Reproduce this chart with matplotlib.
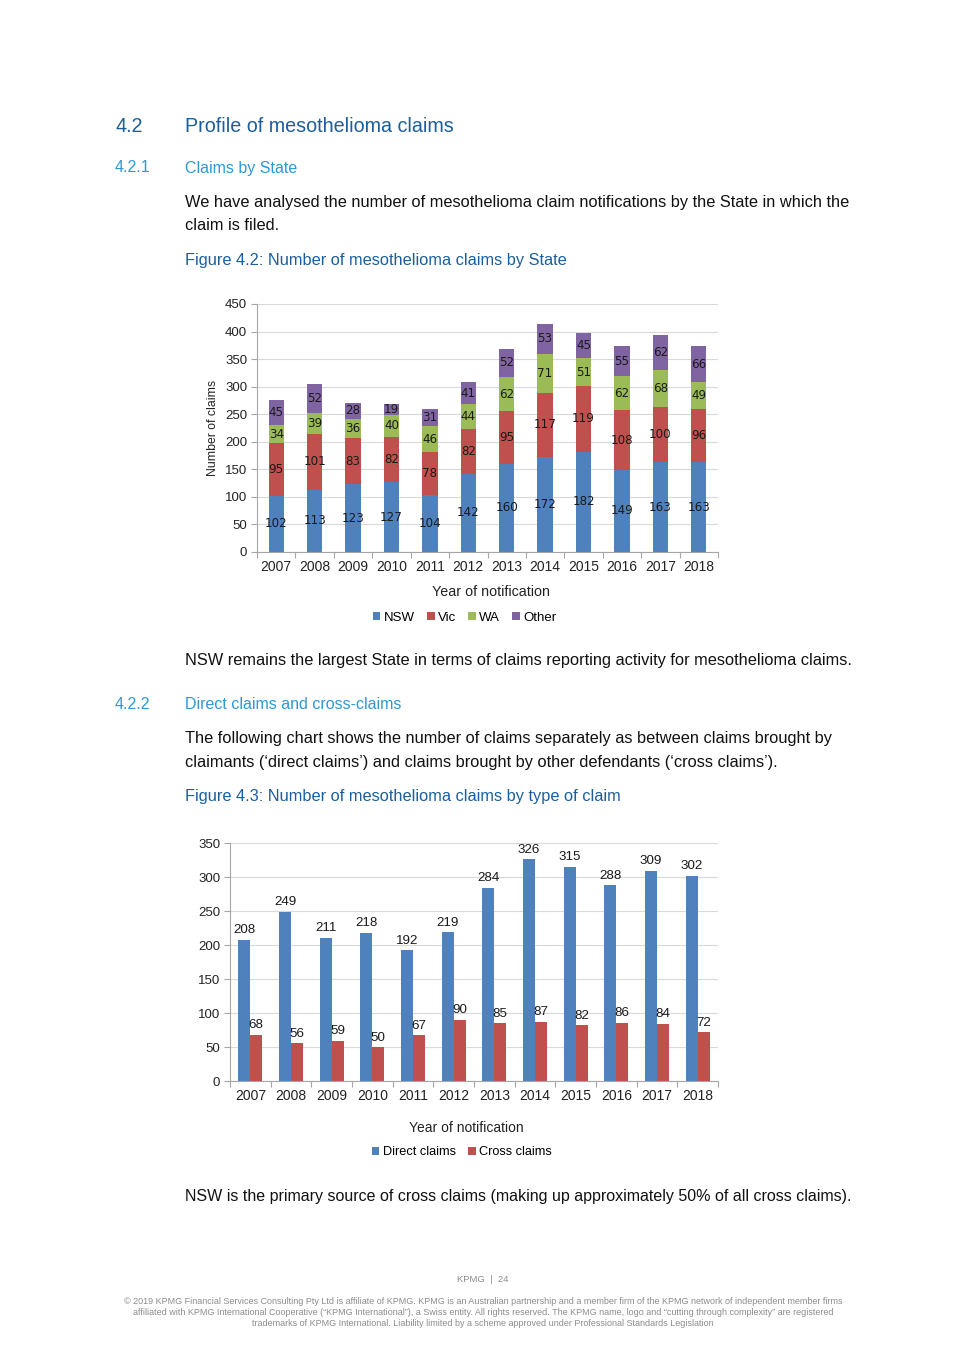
import numpy as np
import matplotlib
matplotlib.use("Agg")
import matplotlib.pyplot as plt

plt.rcParams["font.family"] = ["Liberation Sans", "DejaVu Sans"]

years = [str(y) for y in range(2007, 2019)]
nsw = [102, 113, 123, 127, 104, 142, 160, 172, 182, 149, 163, 163]
vic = [95, 101, 83, 82, 78, 82, 95, 117, 119, 108, 100, 96]
wa = [34, 39, 36, 40, 46, 44, 62, 71, 51, 62, 68, 49]
other = [45, 52, 28, 19, 31, 41, 52, 53, 45, 55, 62, 66]

direct = [208, 249, 211, 218, 192, 219, 284, 326, 315, 288, 309, 302]
cross = [68, 56, 59, 50, 67, 90, 85, 87, 82, 86, 84, 72]

BLUE = "#4F81BD"
RED = "#C0504D"
GREEN = "#9BBB59"
PURPLE = "#8064A2"
HEAD = "#1B5E9E"
SUB = "#2E98D4"
GRID = "#D9D9D9"
AXC = "#A6A6A6"
BODY = 11.8

W, H = 965, 1365
fig = plt.figure(figsize=(W / 100, H / 100), dpi=100)
fig.patch.set_facecolor("white")


def ftext(x, y, s, **kw):
    # place text using pixel coords from the top-left corner
    fig.text(x / W, 1 - y / H, s, va="center", **kw)


def style_axes(ax, ymax, step):
    ax.set_ylim(0, ymax)
    ax.set_yticks(np.arange(0, ymax + 1, step))
    ax.set_xlim(-0.5, len(years) - 0.5)
    ax.set_xticks(range(len(years)))
    ax.set_xticklabels(years)
    ax.set_xticks(np.arange(-0.5, len(years), 1), minor=True)
    ax.tick_params(axis="x", which="major", length=0, pad=6, labelsize=10, labelcolor="#222222")
    ax.tick_params(axis="x", which="minor", length=4, color=AXC, width=0.8)
    ax.tick_params(axis="y", length=4, color=AXC, width=0.8, labelsize=9.5, labelcolor="#222222", pad=3)
    ax.yaxis.grid(True, color=GRID, lw=0.8)
    ax.set_axisbelow(True)
    for side in ("top", "right"):
        ax.spines[side].set_visible(False)
    for side in ("left", "bottom"):
        ax.spines[side].set_color(AXC)
        ax.spines[side].set_linewidth(0.8)


# ---- page text ----
ftext(115, 127, "4.2", fontsize=14.2, color=HEAD)
ftext(185, 127, "Profile of mesothelioma claims", fontsize=14.2, color=HEAD)
ftext(115, 168, "4.2.1", fontsize=11.5, color=SUB)
ftext(185, 168, "Claims by State", fontsize=11.5, color=SUB)
ftext(185, 202, "We have analysed the number of mesothelioma claim notifications by the State in which the",
      fontsize=BODY, color="#111111")
ftext(185, 226, "claim is filed.", fontsize=BODY, color="#111111")
ftext(185, 261, "Figure 4.2: Number of mesothelioma claims by State", fontsize=BODY, color=HEAD)

ftext(185, 660, "NSW remains the largest State in terms of claims reporting activity for mesothelioma claims.",
      fontsize=BODY, color="#111111")
ftext(115, 704, "4.2.2", fontsize=11.5, color=SUB)
ftext(185, 704, "Direct claims and cross-claims", fontsize=11.5, color=SUB)
ftext(185, 738, "The following chart shows the number of claims separately as between claims brought by",
      fontsize=BODY, color="#111111")
ftext(185, 762, "claimants (\u2018direct claims\u2019) and claims brought by other defendants (\u2018cross claims\u2019).",
      fontsize=BODY, color="#111111")
ftext(185, 796, "Figure 4.3: Number of mesothelioma claims by type of claim", fontsize=BODY, color=HEAD)
ftext(185, 1196, "NSW is the primary source of cross claims (making up approximately 50% of all cross claims).",
      fontsize=11.5, color="#111111")

ftext(483, 1279, "KPMG  |  24", fontsize=6.8, color="#8C8C8C", ha="center")
footer = [
    "\u00a9 2019 KPMG Financial Services Consulting Pty Ltd is affiliate of KPMG. KPMG is an Australian partnership and a member firm of the KPMG network of independent member firms",
    "affiliated with KPMG International Cooperative (\u201cKPMG International\u201d), a Swiss entity. All rights reserved. The KPMG name, logo and \u201ccutting through complexity\u201d are registered",
    "trademarks of KPMG International. Liability limited by a scheme approved under Professional Standards Legislation",
]
for i, line in enumerate(footer):
    ftext(483, 1302 + i * 10.5, line, fontsize=6.45, color="#8C8C8C", ha="center")

# ---- Figure 4.2: stacked bars by State ----
ax1 = fig.add_axes([257 / W, 1 - 552 / H, (718 - 257) / W, (552 - 304) / H])
x = np.arange(len(years))
bw = 0.4
bottom = np.zeros(len(years))
for vals, col, name in [(nsw, BLUE, "NSW"), (vic, RED, "Vic"), (wa, GREEN, "WA"), (other, PURPLE, "Other")]:
    vals = np.array(vals)
    ax1.bar(x, vals, bw, bottom=bottom, color=col, label=name, zorder=2)
    for xi, b, v in zip(x, bottom, vals):
        ax1.text(xi, b + v / 2, str(v), ha="center", va="center", fontsize=8.6,
                 color="#1a1a1a", family="DejaVu Sans", zorder=3)
    bottom = bottom + vals
style_axes(ax1, 450, 50)
ax1.set_ylabel("Number of claims", fontsize=8.8, color="#222222", labelpad=4)
ax1.set_xlabel("Year of notification", fontsize=10.3, color="#222222")
ax1.xaxis.set_label_coords(0.508, -0.135)
ax1.legend(loc="center", bbox_to_anchor=(0.45, -0.265), ncol=4, frameon=False, fontsize=9.5,
           handlelength=0.6, handleheight=0.6, handletextpad=0.25, columnspacing=0.9, borderaxespad=0)

# ---- Figure 4.3: direct vs cross claims ----
ax2 = fig.add_axes([230 / W, 1 - 1081 / H, (718 - 230) / W, (1081 - 843) / H])
gw = 0.295
ax2.bar(x - gw / 2, direct, gw, color=BLUE, label="Direct claims", zorder=2)
ax2.bar(x + gw / 2, cross, gw, color=RED, label="Cross claims", zorder=2)
for xi, v in zip(x, direct):
    ax2.text(xi - gw / 2, v + 5, str(v), ha="center", va="bottom", fontsize=9.6, color="#1a1a1a")
for xi, v in zip(x, cross):
    ax2.text(xi + gw / 2, v + 5, str(v), ha="center", va="bottom", fontsize=9.6, color="#1a1a1a")
style_axes(ax2, 350, 50)
ax2.set_xlabel("Year of notification", fontsize=10, color="#222222")
ax2.xaxis.set_label_coords(0.484, -0.17)
ax2.legend(loc="center", bbox_to_anchor=(0.475, -0.30), ncol=2, frameon=False, fontsize=9.2,
           handlelength=0.6, handleheight=0.6, handletextpad=0.25, columnspacing=1.0, borderaxespad=0)

fig.savefig("out.png", dpi=100, facecolor="white")
